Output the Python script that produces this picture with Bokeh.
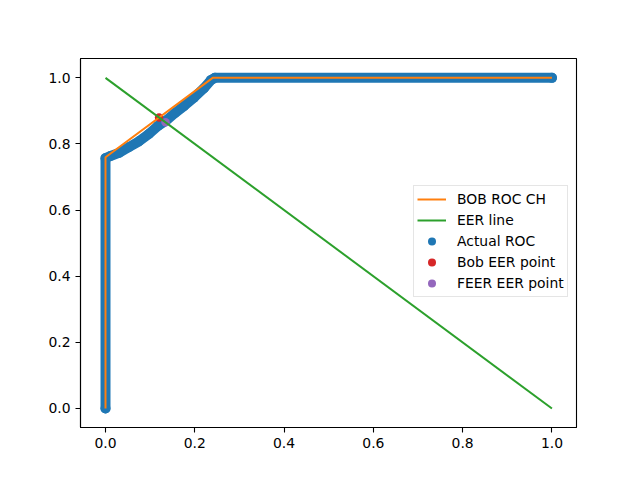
from bokeh.plotting import figure
from bokeh.models import Range1d, FixedTicker, PrintfTickFormatter, Legend, LegendItem
from bokeh.embed import file_html
from bokeh.resources import INLINE

# ---- data ----
roc_fpr = [0.0, 0.0, 0.01, 0.03, 0.052, 0.075, 0.097, 0.118, 0.135, 0.155, 0.176, 0.198, 0.220, 0.236, 0.245, 1.0]
roc_tpr = [0.0, 0.757, 0.763, 0.773, 0.790, 0.808, 0.830, 0.855, 0.870, 0.893, 0.915, 0.940, 0.968, 0.993, 1.0, 1.0]

ch_fpr = [0.0, 0.0, 0.24, 1.0]
ch_tpr = [0.0, 0.76, 1.0, 1.0]

eer_x = [0.0, 1.0]
eer_y = [1.0, 0.0]

bob_eer = (0.12, 0.88)
feer_eer = (0.1345, 0.8655)

ticks = [0.0, 0.2, 0.4, 0.6, 0.8, 1.0]

BLUE = "#1f77b4"
ORANGE = "#ff7f0e"
GREEN = "#2ca02c"
RED = "#d62728"
PURPLE = "#9467bd"
FONT = "DejaVu Sans"
FS = "13.9px"

p = figure(width=624, height=464, output_backend="svg", toolbar_location=None,
           x_range=Range1d(-0.056, 1.055), y_range=Range1d(-0.0575, 1.0585),
           min_border_left=80, min_border_right=48, min_border_top=58, min_border_bottom=37)
p.background_fill_color = "white"
p.border_fill_color = "white"
p.outline_line_color = "black"
p.outline_line_width = 1.1
p.xgrid.grid_line_color = None
p.ygrid.grid_line_color = None

for ax in (p.xaxis[0], p.yaxis[0]):
    ax.ticker = FixedTicker(ticks=ticks)
    ax.formatter = PrintfTickFormatter(format="%.1f")
    ax.axis_line_color = "black"
    ax.axis_line_width = 1.1
    ax.major_tick_line_color = "black"
    ax.major_tick_line_width = 1.1
    ax.major_tick_in = 0
    ax.major_tick_out = 5
    ax.minor_tick_line_color = None
    ax.major_label_standoff = 5
    ax.major_label_text_font = FONT
    ax.major_label_text_font_size = FS
    ax.major_label_text_color = "black"

# Actual ROC (dense scatter band) - drawn first (below lines)
p.line(roc_fpr, roc_tpr, line_color=BLUE, line_width=10, line_cap="round", line_join="round")
r_roc = p.scatter(roc_fpr, roc_tpr, marker="circle", size=10, fill_color=BLUE, line_color=None)
r_bob = p.scatter([bob_eer[0]], [bob_eer[1]], marker="circle", size=8.5, fill_color=RED, line_color=None)
r_feer = p.scatter([feer_eer[0]], [feer_eer[1]], marker="circle", size=8.5, fill_color=PURPLE, line_color=None)

r_ch = p.line(ch_fpr, ch_tpr, line_color=ORANGE, line_width=2)
r_eer = p.line(eer_x, eer_y, line_color=GREEN, line_width=2)

legend = Legend(items=[
    LegendItem(label="BOB ROC CH", renderers=[r_ch]),
    LegendItem(label="EER line", renderers=[r_eer]),
    LegendItem(label="Actual ROC", renderers=[r_roc]),
    LegendItem(label="Bob EER point", renderers=[r_bob]),
    LegendItem(label="FEER EER point", renderers=[r_feer]),
], location=(333, 130))
legend.margin = 0
legend.padding = 3
legend.spacing = 1
legend.glyph_width = 29
legend.glyph_height = 20
legend.label_height = 20
legend.label_standoff = 11
legend.label_text_font = FONT
legend.label_text_font_size = FS
legend.label_text_color = "black"
legend.border_line_color = "#cccccc"
legend.border_line_width = 1
legend.background_fill_color = "white"
legend.background_fill_alpha = 0.8
p.add_layout(legend, "center")

open("out.html", "w").write(file_html(p, INLINE))
